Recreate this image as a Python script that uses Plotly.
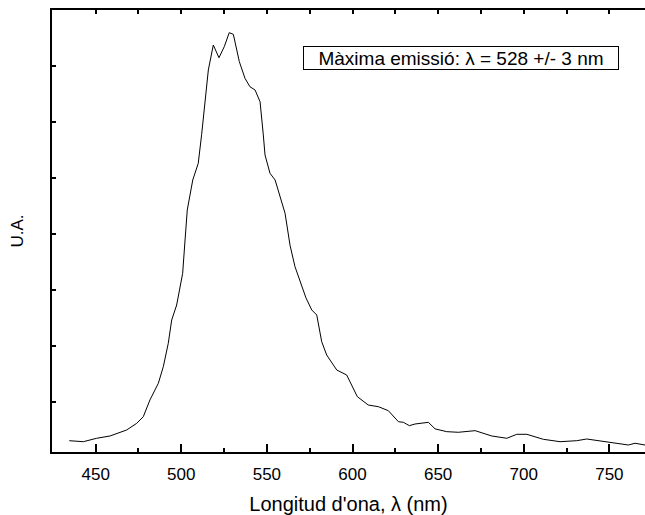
import plotly.graph_objects as go

wavelength = [434.6, 442.8, 450.6, 458.4, 468.1, 474.0, 477.8, 481.7, 486.6, 489.5,
              492.4, 494.4, 497.3, 499.6, 500.8, 502.2, 503.5, 506.7, 509.9, 511.9,
              515.8, 518.7, 522.0, 525.1, 528.0, 530.4, 533.9, 537.2, 540.1, 543.1,
              546.0, 547.9, 548.9, 551.8, 554.8, 560.6, 563.5, 566.4, 572.8, 576.2,
              579.1, 582.0, 584.9, 590.8, 596.6, 602.8, 609.2, 615.1, 620.9, 626.8,
              629.7, 633.2, 636.5, 644.3, 648.2, 655.0, 661.8, 671.6, 681.3, 690.1,
              695.9, 701.8, 711.4, 721.2, 730.9, 736.8, 748.5, 761.1, 765.0, 770.8]
intensity = [-691, -709, -648, -607, -500, -380, -263, 36, 334, 630,
             1048, 1464, 1732, 2100, 2298, 2893, 3429, 3964, 4262, 4780,
             5929, 6375, 6148, 6345, 6595, 6566, 6077, 5780, 5630, 5571,
             5362, 4770, 4411, 4084, 3964, 3370, 2800, 2416, 1860, 1643,
             1554, 1077, 839, 571, 482, 95, -54, -84, -155, -352,
             -363, -423, -393, -363, -480, -530, -541, -512, -607, -648,
             -577, -577, -666, -709, -691, -661, -714, -768, -737, -768]

x_range = [424.5, 770.8]
y_range = [-893, 7000]
label_text = "Màxima emissió: λ = 528 +/- 3 nm"
x_title = "Longitud d'ona, λ (nm)"
y_title = "U.A."

FONT = "Liberation Sans, Arial, sans-serif"

fig = go.Figure()
fig.add_trace(go.Scatter(x=wavelength, y=intensity, mode="lines",
                         line=dict(color="black", width=1), showlegend=False,
                         hoverinfo="skip"))
fig.add_trace(go.Scatter(x=[], y=[], xaxis="x2", showlegend=False, hoverinfo="skip"))

fig.update_layout(
    width=645, height=515,
    margin=dict(l=52, r=0, t=10, b=63),
    plot_bgcolor="white", paper_bgcolor="white",
    font=dict(family=FONT, color="black"),
    xaxis=dict(range=x_range, tick0=450, dtick=50, ticks="inside", ticklen=8,
               tickwidth=1.5, tickcolor="black", showline=True, linewidth=2,
               linecolor="black", showgrid=False, zeroline=False,
               tickfont=dict(size=17, family=FONT), ticklabelstandoff=6,
               minor=dict(tick0=425, dtick=25, ticks="inside", ticklen=4,
                          tickwidth=1.5, tickcolor="black", showgrid=False),
               title=dict(text=x_title, font=dict(size=20, family=FONT), standoff=15)),
    xaxis2=dict(range=x_range, overlaying="x", side="top", anchor="y",
                tick0=425, dtick=25, ticks="inside", ticklen=4, tickwidth=1.5,
                tickcolor="black", showticklabels=False, showline=True,
                linewidth=2, linecolor="black", showgrid=False, zeroline=False),
    yaxis=dict(range=y_range, tick0=0, dtick=1000, ticks="inside", ticklen=4,
               tickwidth=1.5, tickcolor="black", showticklabels=False,
               showline=True, linewidth=2, linecolor="black", showgrid=False,
               zeroline=False,
               title=dict(text=y_title, font=dict(size=17, family=FONT), standoff=22)),
)

fig.add_annotation(x=663.4, y=6143, xref="x", yref="y", text=label_text,
                   showarrow=False, font=dict(size=19, family=FONT, color="black"),
                   width=314, height=22, align="center",
                   bordercolor="black", borderwidth=1, borderpad=0, bgcolor="white")

fig.write_html("out.html")
